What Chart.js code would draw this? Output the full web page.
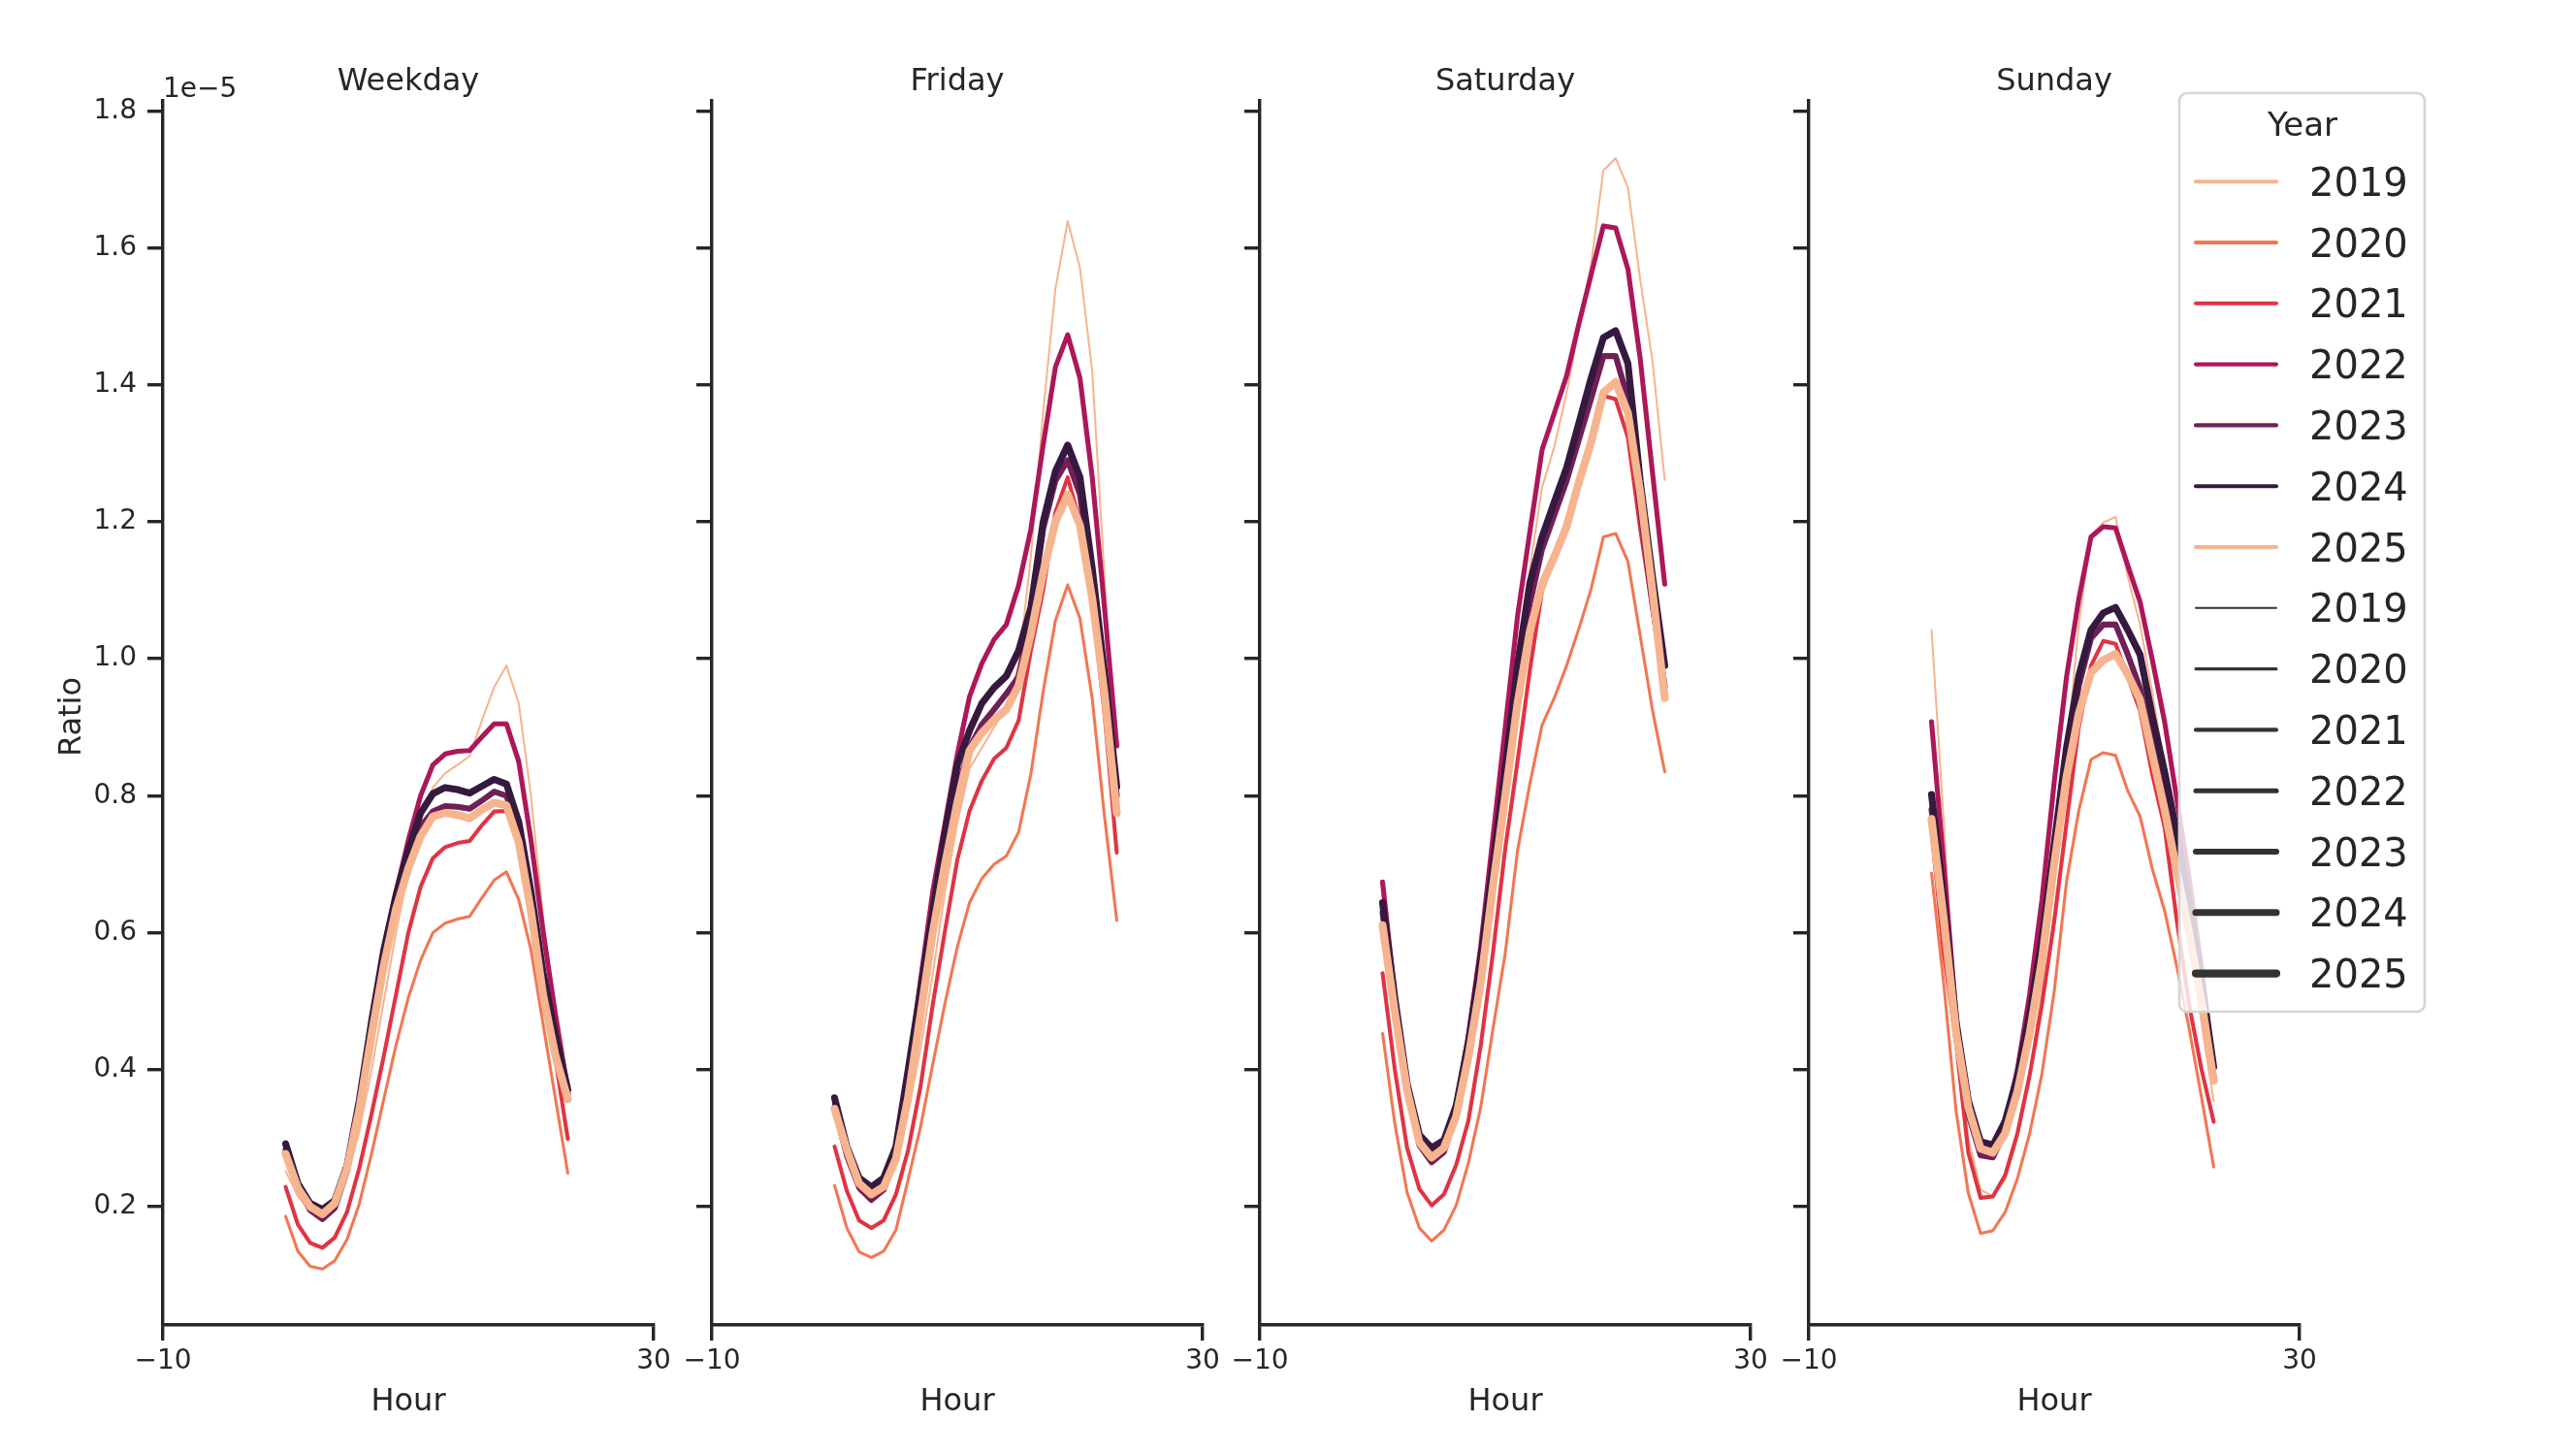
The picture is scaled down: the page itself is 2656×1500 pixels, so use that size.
<!DOCTYPE html>
<html>
<head>
<meta charset="utf-8">
<script src="https://cdn.jsdelivr.net/npm/chart.js@4.4.1/dist/chart.umd.min.js"></script>
<style>
  html, body { margin: 0; padding: 0; background: #ffffff; width: 2656px; height: 1500px; overflow: hidden; }
  canvas { position: absolute; top: 0; }
</style>
</head>
<body>
<script>
// ---------------- DATA (values in units of 1e-5) ----------------
const HOURS = [0,1,2,3,4,5,6,7,8,9,10,11,12,13,14,15,16,17,18,19,20,21,22,23];
const YEARS = ['2019','2020','2021','2022','2023','2024','2025'];
const PANEL_TITLES = ['Weekday','Friday','Saturday','Sunday'];
const X_TICKS = [-10, 30];
const Y_TICKS = [0.2, 0.4, 0.6, 0.8, 1.0, 1.2, 1.4, 1.6, 1.8];
const X_LABEL = 'Hour';
const Y_LABEL = 'Ratio';
const Y_SCALE_LABEL = '1e\u22125';
const LEGEND_TITLE = 'Year';

const weekday2019 = [0.252,0.215,0.195,0.185,0.200,0.245,0.310,0.400,0.500,0.600,0.690,0.765,0.812,0.833,0.845,0.858,0.910,0.959,0.990,0.935,0.800,0.620,0.470,0.355];
const weekday2020 = [0.186,0.135,0.113,0.109,0.121,0.152,0.204,0.277,0.357,0.436,0.505,0.560,0.600,0.614,0.620,0.624,0.651,0.677,0.689,0.648,0.575,0.465,0.357,0.249];
const weekday2021 = [0.229,0.174,0.147,0.140,0.155,0.192,0.256,0.335,0.420,0.510,0.600,0.667,0.709,0.725,0.731,0.734,0.757,0.777,0.778,0.728,0.645,0.530,0.414,0.299];
const weekday2022 = [0.283,0.232,0.203,0.193,0.207,0.260,0.355,0.470,0.575,0.660,0.735,0.800,0.845,0.861,0.865,0.866,0.886,0.905,0.905,0.850,0.735,0.600,0.480,0.370];
const weekday2023 = [0.283,0.228,0.195,0.182,0.198,0.252,0.345,0.460,0.565,0.645,0.710,0.755,0.777,0.785,0.784,0.781,0.793,0.806,0.800,0.745,0.645,0.525,0.435,0.365];
const weekday2024 = [0.292,0.234,0.205,0.196,0.209,0.260,0.355,0.470,0.575,0.655,0.720,0.775,0.803,0.812,0.809,0.804,0.814,0.824,0.817,0.762,0.660,0.540,0.450,0.371];
const weekday2025 = [0.277,0.227,0.200,0.189,0.205,0.256,0.342,0.450,0.552,0.635,0.694,0.741,0.770,0.775,0.772,0.767,0.780,0.790,0.786,0.732,0.631,0.508,0.420,0.357];

const friday2019 = [0.330,0.265,0.222,0.210,0.222,0.260,0.340,0.430,0.540,0.660,0.760,0.840,0.870,0.900,0.930,0.990,1.150,1.360,1.540,1.639,1.571,1.420,1.120,0.780];
const friday2020 = [0.231,0.169,0.134,0.126,0.135,0.166,0.240,0.316,0.408,0.497,0.579,0.644,0.679,0.700,0.712,0.747,0.832,0.952,1.056,1.108,1.059,0.942,0.770,0.618];
const friday2021 = [0.288,0.223,0.180,0.169,0.180,0.218,0.283,0.375,0.495,0.603,0.706,0.778,0.822,0.854,0.870,0.910,1.012,1.100,1.214,1.265,1.200,1.080,0.920,0.717];
const friday2022 = [0.350,0.280,0.235,0.222,0.238,0.285,0.390,0.530,0.660,0.760,0.860,0.945,0.993,1.028,1.050,1.107,1.189,1.312,1.426,1.473,1.410,1.265,1.075,0.873];
const friday2023 = [0.345,0.275,0.228,0.210,0.225,0.272,0.370,0.490,0.615,0.725,0.810,0.870,0.904,0.926,0.949,0.974,1.060,1.190,1.260,1.290,1.240,1.110,0.960,0.800];
const friday2024 = [0.359,0.288,0.242,0.229,0.242,0.288,0.400,0.515,0.630,0.745,0.845,0.895,0.935,0.958,0.975,1.012,1.075,1.200,1.274,1.312,1.265,1.132,0.980,0.813];
const friday2025 = [0.343,0.283,0.234,0.218,0.229,0.270,0.360,0.480,0.600,0.700,0.790,0.866,0.892,0.911,0.926,0.961,1.037,1.126,1.200,1.240,1.195,1.088,0.949,0.775];

const saturday2019 = [0.600,0.470,0.360,0.290,0.268,0.280,0.325,0.410,0.520,0.660,0.800,0.950,1.130,1.250,1.310,1.388,1.482,1.576,1.713,1.731,1.688,1.554,1.435,1.261];
const saturday2020 = [0.453,0.321,0.221,0.169,0.150,0.166,0.202,0.264,0.345,0.460,0.570,0.720,0.817,0.903,0.943,0.990,1.044,1.102,1.178,1.183,1.142,1.034,0.925,0.835];
const saturday2021 = [0.541,0.400,0.286,0.226,0.202,0.218,0.261,0.326,0.435,0.571,0.723,0.850,0.983,1.099,1.150,1.200,1.255,1.310,1.384,1.379,1.323,1.190,1.070,0.950];
const saturday2022 = [0.674,0.510,0.375,0.300,0.282,0.295,0.350,0.450,0.580,0.740,0.900,1.062,1.185,1.305,1.359,1.413,1.489,1.561,1.632,1.629,1.569,1.438,1.272,1.109];
const saturday2023 = [0.630,0.490,0.370,0.290,0.265,0.280,0.335,0.425,0.545,0.685,0.825,0.965,1.080,1.160,1.210,1.260,1.320,1.380,1.442,1.442,1.380,1.220,1.080,0.960];
const saturday2024 = [0.644,0.505,0.380,0.305,0.286,0.297,0.348,0.440,0.560,0.700,0.840,0.990,1.110,1.178,1.229,1.279,1.344,1.410,1.469,1.479,1.431,1.260,1.120,0.990];
const saturday2025 = [0.611,0.484,0.370,0.294,0.272,0.286,0.332,0.419,0.527,0.668,0.800,0.935,1.040,1.109,1.149,1.193,1.258,1.316,1.389,1.404,1.359,1.243,1.099,0.943];

const sunday2019 = [1.042,0.762,0.453,0.300,0.225,0.215,0.240,0.300,0.390,0.520,0.680,0.860,1.050,1.180,1.199,1.207,1.120,1.050,0.950,0.840,0.720,0.600,0.470,0.354];
const sunday2020 = [0.687,0.525,0.340,0.220,0.161,0.165,0.192,0.241,0.307,0.394,0.514,0.674,0.778,0.853,0.863,0.859,0.807,0.770,0.693,0.632,0.550,0.460,0.360,0.258];
const sunday2021 = [0.750,0.570,0.440,0.279,0.213,0.215,0.246,0.307,0.392,0.495,0.617,0.760,0.900,0.990,1.026,1.022,0.973,0.924,0.831,0.754,0.617,0.495,0.401,0.324];
const sunday2022 = [0.908,0.700,0.480,0.340,0.280,0.278,0.320,0.400,0.510,0.648,0.820,0.973,1.087,1.178,1.193,1.191,1.136,1.083,0.998,0.908,0.794,0.680,0.550,0.400];
const sunday2023 = [0.780,0.620,0.450,0.335,0.275,0.272,0.310,0.380,0.470,0.575,0.710,0.850,0.960,1.030,1.050,1.050,1.006,0.957,0.880,0.800,0.715,0.620,0.510,0.390];
const sunday2024 = [0.802,0.650,0.470,0.355,0.295,0.290,0.325,0.390,0.480,0.590,0.730,0.870,0.975,1.042,1.067,1.075,1.042,1.006,0.916,0.835,0.745,0.645,0.530,0.404];
const sunday2025 = [0.766,0.620,0.455,0.345,0.285,0.279,0.307,0.368,0.453,0.561,0.700,0.827,0.920,0.980,0.998,1.007,0.977,0.940,0.860,0.780,0.690,0.600,0.500,0.384];

const PANEL_DATA = [
  [weekday2019, weekday2020, weekday2021, weekday2022, weekday2023, weekday2024, weekday2025],
  [friday2019, friday2020, friday2021, friday2022, friday2023, friday2024, friday2025],
  [saturday2019, saturday2020, saturday2021, saturday2022, saturday2023, saturday2024, saturday2025],
  [sunday2019, sunday2020, sunday2021, sunday2022, sunday2023, sunday2024, sunday2025]
];

// ---------------- STYLE ----------------
const COLORS = ['#f6b48f', '#f37651', '#e13342', '#ad1759', '#701f57', '#35193e', '#f6b48f'];
const WIDTHS = [2.03, 3.05, 4.06, 5.08, 6.09, 7.11, 8.13];
const HUE_LEGEND_WIDTH = 4.06;
const SIZE_LEGEND_COLOR = '#333333';
const FONT = "'DejaVu Sans', 'Liberation Sans', sans-serif";
const INK = '#262626';
const PAGE_W = 2656, PAGE_H = 1500;
const AREA_TOP = 104, AREA_BOTTOM = 1366, AREA_W = 506;
const YW = 160, XH = 100;
const AXIS_LEFTS = [168, 734, 1299, 1865];
const X_MIN = -10, X_MAX = 30;
const Y_MIN = 0.0273, Y_MAX = 1.8146;
const SPINE_W = 3.4;

function fmtX(v) { return v < 0 ? '\u2212' + Math.abs(v) : String(v); }

function roundRectPath(ctx, x, y, w, h, r) {
  ctx.beginPath();
  ctx.moveTo(x + r, y);
  ctx.lineTo(x + w - r, y);
  ctx.arcTo(x + w, y, x + w, y + r, r);
  ctx.lineTo(x + w, y + h - r);
  ctx.arcTo(x + w, y + h, x + w - r, y + h, r);
  ctx.lineTo(x + r, y + h);
  ctx.arcTo(x, y + h, x, y + h - r, r);
  ctx.lineTo(x, y + r);
  ctx.arcTo(x, y, x + r, y, r);
  ctx.closePath();
}

function drawLegend(ctx, L) {
  const bx = 2247 - L, by = 96, bw = 253, bh = 947;
  ctx.save();
  roundRectPath(ctx, bx, by, bw, bh, 8);
  ctx.fillStyle = 'rgba(255,255,255,0.8)';
  ctx.fill();
  ctx.lineWidth = 2.7;
  ctx.strokeStyle = '#d6d6d6';
  ctx.stroke();

  ctx.fillStyle = INK;
  ctx.textBaseline = 'alphabetic';
  ctx.textAlign = 'center';
  ctx.font = '34px ' + FONT;
  ctx.fillText(LEGEND_TITLE, 2374 - L, 140);

  ctx.textAlign = 'left';
  ctx.font = '40px ' + FONT;
  ctx.lineCap = 'round';
  for (let r = 0; r < YEARS.length * 2; r++) {
    const k = r % YEARS.length;
    const yRow = 187.2 + r * 62.8;
    ctx.beginPath();
    ctx.moveTo(2264 - L, yRow);
    ctx.lineTo(2347 - L, yRow);
    if (r < YEARS.length) {
      ctx.strokeStyle = COLORS[k];
      ctx.lineWidth = HUE_LEGEND_WIDTH;
    } else {
      ctx.strokeStyle = SIZE_LEGEND_COLOR;
      ctx.lineWidth = WIDTHS[k];
    }
    ctx.stroke();
    ctx.fillStyle = INK;
    ctx.fillText(YEARS[k], 2381 - L, yRow + 14.6);
  }
  ctx.restore();
}

function textPlugin(p, canvasLeft) {
  return {
    id: 'panelText' + p,
    afterDraw(chart) {
      const ctx = chart.ctx, a = chart.chartArea;
      ctx.save();
      ctx.fillStyle = INK;
      ctx.textBaseline = 'alphabetic';
      ctx.textAlign = 'center';
      ctx.font = '32px ' + FONT;
      const cx = (a.left + a.right) / 2;
      ctx.fillText(PANEL_TITLES[p], cx, 93);
      ctx.fillText(X_LABEL, cx, 1454);
      if (p === 0) {
        ctx.textAlign = 'left';
        ctx.font = '28px ' + FONT;
        ctx.fillText(Y_SCALE_LABEL, a.left, 100);
        ctx.save();
        ctx.translate(83 - canvasLeft, 739);
        ctx.rotate(-Math.PI / 2);
        ctx.textAlign = 'center';
        ctx.font = '32px ' + FONT;
        ctx.fillText(Y_LABEL, 0, 0);
        ctx.restore();
      }
      if (p === 3) drawLegend(ctx, canvasLeft);
      ctx.restore();
    }
  };
}

function axisGrid() {
  return {
    display: true, drawOnChartArea: false, drawTicks: true,
    tickLength: 16, tickWidth: SPINE_W, tickColor: INK, color: INK, lineWidth: SPINE_W
  };
}

function makePanel(p) {
  const left = AXIS_LEFTS[p] - YW;
  const width = (p === 3) ? PAGE_W - left : YW + AREA_W + 60;
  const canvas = document.createElement('canvas');
  canvas.width = width;
  canvas.height = PAGE_H;
  canvas.style.left = left + 'px';
  canvas.style.width = width + 'px';
  canvas.style.height = PAGE_H + 'px';
  document.body.appendChild(canvas);

  const datasets = YEARS.map((yr, k) => ({
    label: yr,
    data: HOURS.map((h, i) => ({ x: h, y: PANEL_DATA[p][k][i] })),
    borderColor: COLORS[k],
    backgroundColor: COLORS[k],
    borderWidth: WIDTHS[k],
    pointRadius: 0,
    pointHoverRadius: 0,
    tension: 0,
    fill: false,
    borderCapStyle: 'round',
    borderJoinStyle: 'round',
    order: YEARS.length - 1 - k
  }));

  new Chart(canvas, {
    type: 'line',
    data: { datasets },
    options: {
      responsive: false,
      maintainAspectRatio: false,
      animation: false,
      devicePixelRatio: 1,
      events: [],
      layout: { padding: { left: 0, right: width - YW - AREA_W, top: AREA_TOP, bottom: PAGE_H - AREA_BOTTOM - XH } },
      plugins: { legend: { display: false }, title: { display: false }, tooltip: { enabled: false } },
      scales: {
        x: {
          type: 'linear', position: 'bottom', min: X_MIN, max: X_MAX,
          afterBuildTicks: s => { s.ticks = X_TICKS.map(v => ({ value: v })); },
          afterFit: s => { s.height = XH; s.paddingLeft = 0; s.paddingRight = 0; },
          ticks: { autoSkip: false, maxRotation: 0, minRotation: 0, padding: 5, color: INK,
                   font: { family: FONT, size: 28 }, callback: v => fmtX(v) },
          grid: axisGrid(),
          border: { display: true, color: INK, width: SPINE_W }
        },
        y: {
          type: 'linear', position: 'left', min: Y_MIN, max: Y_MAX,
          afterBuildTicks: s => { s.ticks = Y_TICKS.map(v => ({ value: v })); },
          afterFit: s => { s.width = YW; s.paddingTop = 0; s.paddingBottom = 0; },
          ticks: { autoSkip: false, padding: 11, color: INK,
                   font: { family: FONT, size: 28 }, callback: v => (p === 0 ? Number(v).toFixed(1) : '') },
          grid: axisGrid(),
          border: { display: true, color: INK, width: SPINE_W }
        }
      }
    },
    plugins: [textPlugin(p, left)]
  });
}

for (let p = 0; p < PANEL_TITLES.length; p++) makePanel(p);
</script>
</body>
</html>
